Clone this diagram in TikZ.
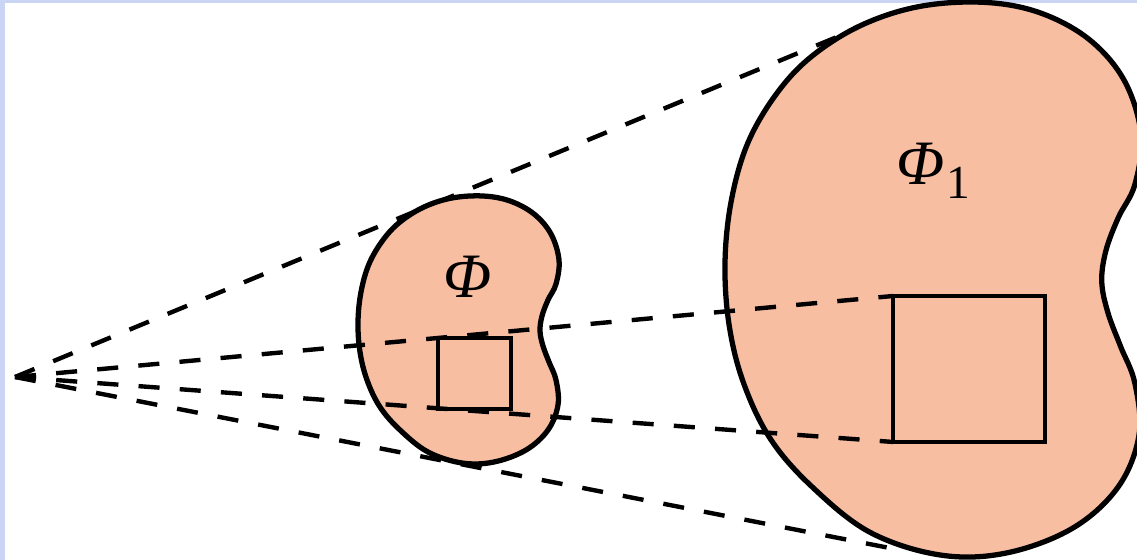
\documentclass[tikz,border=0pt]{standalone}
\usepackage{fontspec}
\setmainfont{Liberation Serif}

\definecolor{kidneyfill}{RGB}{248,190,162}
\definecolor{slideblue}{RGB}{202,213,244}

% 肾形区域（小的那一个，像素坐标）
\newcommand{\kidneyshape}{plot[smooth cycle, tension=0.6] coordinates {
    (424,207) (400,222) (383,240) (369,264) (361,292) (358,322)
    (360,352) (367,380) (380,407) (400,430) (428,452) (462,463)
    (494,462) (526,450) (548,430) (558,405) (556,380) (549,362)
    (543,346) (540,331) (542,316) (548,300) (556,284) (559,260)
    (551,234) (534,214) (510,201) (483,196) (452,198)}}

\begin{document}
\begin{tikzpicture}[
    x=0.02cm, y=-0.02cm,
    region/.style={draw, line width=3pt, fill=kidneyfill},
    frame/.style={draw, line width=2.8pt, outer sep=0pt, inner sep=0pt},
    ray/.style={line width=2.5pt, dash pattern=on 12pt off 11.5pt},
    lbl/.style={font=\fontsize{36}{43}\selectfont\itshape, inner sep=0pt}
]

    % 背景
    \fill[slideblue] (0,0) rectangle (1137,560);
    \fill[white] (5,3) rectangle (1137,560);
    \useasboundingbox (0,0) rectangle (1137,560);
    \clip (0,0) rectangle (1137,560);

    % 顶点和切点
    \coordinate (apex) at (15,377);
    \coordinate (toptouch) at (866,25);
    \coordinate (bottouch) at (905,551);

    % 外侧的两条虚线
    \draw[ray] (apex) -- (toptouch);
    \draw[ray] (apex) -- (bottouch);

    % 两个肾形区域
    \path[region] \kidneyshape;
    \begin{scope}[shift={(15,377)}, scale=2.07, shift={(-15,-377)}]
        \path[region] \kidneyshape;
    \end{scope}

    % 方块
    \node[frame, minimum width=1.46cm, minimum height=1.42cm,
          anchor=north west] (box) at (438,338) {};
    \node[frame, minimum width=3.04cm, minimum height=2.92cm,
          anchor=north west] (bigbox) at (893,296) {};

    % 内侧的两条虚线
    \draw[ray] (apex) -- (bigbox.north west);
    \draw[ray] (apex) -- (bigbox.south west);

    % 标注
    \node[lbl, anchor=base west] (phi) at (443,298) {Φ};
    \node[lbl, anchor=base west] (phione) at (896,185)
        {Φ\kern0.03em\raisebox{-0.22em}{\upshape\fontsize{27}{30}\selectfont 1}};

\end{tikzpicture}
\end{document}
